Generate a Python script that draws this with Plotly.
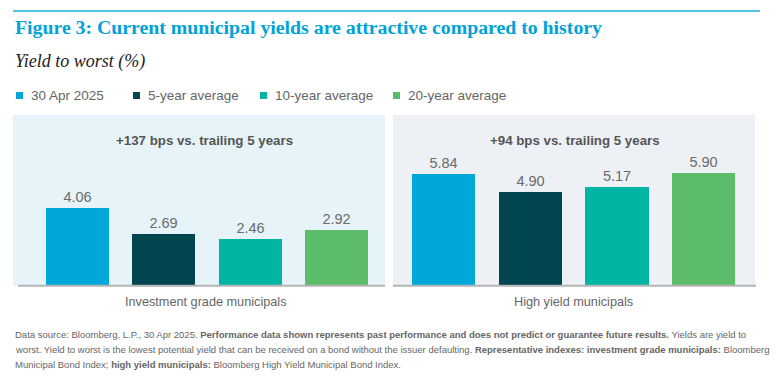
import plotly.graph_objects as go

W, H = 781, 387

series = ["30 Apr 2025", "5-year average", "10-year average", "20-year average"]
colors = ["#00A8DA", "#00454F", "#00B5A3", "#5BBC6A"]
ig_values = [4.06, 2.69, 2.46, 2.92]
hy_values = [5.84, 4.90, 5.17, 5.90]
panel_titles = ["+137 bps vs. trailing 5 years", "+94 bps vs. trailing 5 years"]
panel_labels = ["Investment grade municipals", "High yield municipals"]

def px(x):
    return x / W

def py(y):
    return 1 - y / H

fig = go.Figure()
for vals, xa, ya in [(ig_values, "x", "y"), (hy_values, "x2", "y2")]:
    fig.add_trace(go.Bar(
        x=series, y=vals, xaxis=xa, yaxis=ya,
        marker=dict(color=colors, line=dict(width=0)),
        width=0.73,
        text=[f"{v:.2f}" for v in vals], textposition="outside",
        textfont=dict(family="Liberation Sans, Arial", size=14.5, color="#6b6b6b"),
        cliponaxis=False, showlegend=False, hoverinfo="skip",
    ))

ydom = [py(285.7), py(115)]
yr = [0, (285.7 - 115) / 19.1]
fig.update_layout(
    width=W, height=H, margin=dict(l=0, r=0, t=0, b=0),
    paper_bgcolor="white", plot_bgcolor="rgba(0,0,0,0)",
    xaxis=dict(domain=[px(13), px(385)], range=[-0.747, 3.563], visible=False),
    xaxis2=dict(domain=[px(393), px(755)], range=[-0.582, 3.593], visible=False),
    yaxis=dict(domain=ydom, range=yr, visible=False),
    yaxis2=dict(domain=ydom, range=yr, visible=False, anchor="x2"),
    bargap=0,
)

shapes = [
    dict(type="rect", xref="x domain", yref="y domain", x0=0, x1=1, y0=0, y1=1,
         fillcolor="#E6F4FA", line=dict(width=0), layer="below"),
    dict(type="rect", xref="x2 domain", yref="y2 domain", x0=0, x1=1, y0=0, y1=1,
         fillcolor="#EDF1F5", line=dict(width=0), layer="below"),
    dict(type="line", xref="paper", yref="paper", x0=px(18), x1=px(385), y0=py(285.7), y1=py(285.7),
         line=dict(color="#B5B5B5", width=2)),
    dict(type="line", xref="paper", yref="paper", x0=px(393), x1=px(756), y0=py(285.7), y1=py(285.7),
         line=dict(color="#B5B5B5", width=2)),
    dict(type="line", xref="paper", yref="paper", x0=px(13), x1=px(760), y0=py(11), y1=py(11),
         line=dict(color="#1AAEDF", width=1.5)),
]

# legend
leg_x = [16, 133, 260, 393]
for xs, c in zip(leg_x, colors):
    shapes.append(dict(type="rect", xref="paper", yref="paper",
                       x0=px(xs), x1=px(xs + 7), y0=py(99), y1=py(92),
                       fillcolor=c, line=dict(width=0)))
fig.update_layout(shapes=shapes)

ann = []
for xs, name in zip(leg_x, series):
    ann.append(dict(text=name, x=px(xs + 13), y=py(95.5), xref="paper", yref="paper",
                    xanchor="left", yanchor="middle", showarrow=False,
                    font=dict(family="Liberation Sans, Arial", size=13.5, color="#666666")))

ann.append(dict(text="<b>Figure 3: Current municipal yields are attractive compared to history</b>",
                x=px(13), y=py(27), xref="paper", yref="paper", xanchor="left", yanchor="middle",
                showarrow=False, font=dict(family="Liberation Serif, Times New Roman, serif", size=19.8, color="#00A3D6")))
ann.append(dict(text="<i>Yield to worst (%)</i>",
                x=px(13), y=py(61), xref="paper", yref="paper", xanchor="left", yanchor="middle",
                showarrow=False, font=dict(family="Liberation Serif, Times New Roman, serif", size=18, color="#222222")))

for cx, t in zip([205, 575], panel_titles):
    ann.append(dict(text=f"<b>{t}</b>", x=px(cx), y=py(140), xref="paper", yref="paper",
                    xanchor="center", yanchor="middle", showarrow=False,
                    font=dict(family="Liberation Sans, Arial", size=13.3, color="#555555")))
for cx, t in zip([206, 573], panel_labels):
    ann.append(dict(text=t, x=px(cx), y=py(302), xref="paper", yref="paper",
                    xanchor="center", yanchor="middle", showarrow=False,
                    font=dict(family="Liberation Sans, Arial", size=12.7, color="#666666")))

foot = [
    "Data source: Bloomberg, L.P., 30 Apr 2025. <b>Performance data shown represents past performance and does not predict or guarantee future results.</b> Yields are yield to",
    "worst. Yield to worst is the lowest potential yield that can be received on a bond without the issuer defaulting. <b>Representative indexes: investment grade municipals:</b> Bloomberg",
    "Municipal Bond Index; <b>high yield municipals:</b> Bloomberg High Yield Municipal Bond Index.",
]
for i, line in enumerate(foot):
    ann.append(dict(text=line, x=px(13), y=py(334 + 15 * i), xref="paper", yref="paper",
                    xanchor="left", yanchor="middle", showarrow=False,
                    font=dict(family="Liberation Sans, Arial", size=9.5, color="#666666")))

fig.update_layout(annotations=ann)
fig.write_html("out.html", config={"displayModeBar": False},
               post_script="document.body.style.margin='0';document.body.style.overflow='hidden';")
